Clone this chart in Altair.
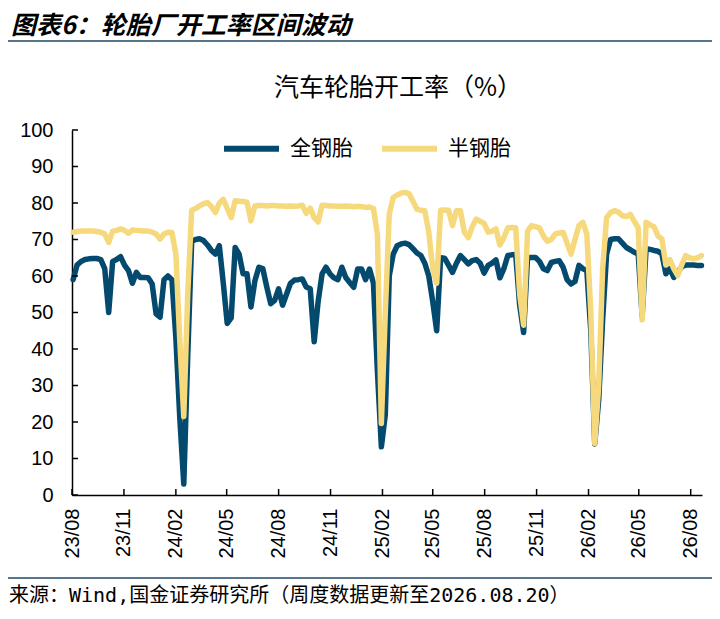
import altair as alt
import pandas as pd

# weekly data, Thursdays 2023-08-03 .. 2026-08-20
weeks = pd.date_range("2023-08-03", periods=160, freq="7D").strftime("%Y-%m-%dT00:00:00").tolist()

all_steel = [
    59, 63, 64, 64.5, 64.7, 64.8, 64.8, 64.5, 62, 50,
    64, 64.5, 65.3, 63, 61.5, 58, 61, 59.6, 59.6, 59.5,
    57.8, 49.6, 48.7, 59, 60, 59, 43, 21, 3, 38,
    69.5, 70, 70.2, 69.7, 68.5, 67, 66, 68.3, 58, 47,
    48.5, 67.8, 66, 60.6, 60.6, 51.5, 58.7, 62.4, 62, 57,
    52.4, 53.3, 56.5, 52, 55, 58, 58.9, 59, 59.2, 57,
    56.5, 42, 53, 60.6, 62.4, 60.6, 59.5, 59, 62.4, 59.6,
    58.2, 56.9, 61.9, 61.9, 59, 61.9, 58, 34, 13.2, 22,
    60, 66, 68.3, 68.8, 69, 68.6, 67.5, 66.3, 65.6, 63.5,
    60, 53, 45, 65, 64.9, 63, 61, 63.5, 65.6, 64.5,
    63.3, 64.2, 64.5, 63.5, 60.8, 62.9, 63.5, 64.4, 59.5, 62,
    65.6, 65.8, 65.9, 52, 44.5, 65.1, 65.1, 65.1, 64, 62,
    61.5, 63.7, 64, 64.2, 62.4, 59, 57.8, 58.5, 62.9, 62,
    61.5, 45, 14, 26, 48, 66, 70, 70.2, 70.2, 69,
    67.8, 67.2, 66.5, 66, 49, 67.5, 67.3, 67, 66.8, 66,
    60.6, 62, 59.6, 61, 62.5, 63, 63, 63, 62.9, 62.9,
]

semi_steel = [
    72, 72.2, 72.3, 72.3, 72.3, 72.3, 72.2, 72, 71.5, 69.2,
    72.3, 72.5, 72.9, 72.5, 71.7, 72.6, 72.5, 72.4, 72.3, 72.3,
    72, 71.5, 70.1, 71.5, 72, 71.9, 66, 42, 21.5, 55,
    78, 78.5, 79.2, 79.8, 80.1, 79, 77.4, 80, 81, 78.5,
    76, 80.6, 80.5, 80.4, 80.2, 75.1, 79.2, 79.3, 79.3, 79.2,
    79.3, 79.3, 79.2, 79.2, 79.1, 79.2, 79.1, 79.2, 79.4, 77.2,
    78.6, 76, 74.8, 79.4, 79.3, 79.2, 79.2, 79.1, 79.1, 79.2,
    79.1, 79, 79.1, 79, 78.8, 78.9, 78.5, 71.5, 19.6, 50,
    77, 81.5, 82.2, 82.7, 82.9, 82.5, 80.5, 78.3, 78, 77.9,
    72, 62, 58, 78, 78.1, 78, 73.8, 77.9, 77.9, 72,
    70.5, 73.5, 75.6, 75, 74.4, 72, 72.3, 72.9, 68.5, 70.5,
    73.2, 73.3, 73.2, 55, 46.5, 72.3, 73.8, 73.5, 73.2, 71,
    69.5, 70, 71.5, 71.8, 71.9, 69, 66, 70, 73.8, 74.7,
    71.5, 50, 14.1, 30, 62, 76, 77.4, 77.9, 77.5, 76.5,
    76.3, 76.9, 75, 73.2, 48, 74.7, 74, 73.5, 71, 70.1,
    63, 64.5, 62, 60.1, 63, 65.6, 65, 64.7, 65, 65.6,
]

series_names = ["全钢胎", "半钢胎"]
tick_months = [(2023, 8), (2023, 11), (2024, 2), (2024, 5), (2024, 8), (2024, 11),
               (2025, 2), (2025, 5), (2025, 8), (2025, 11), (2026, 2), (2026, 5), (2026, 8)]
y_ticks = [0, 10, 20, 30, 40, 50, 60, 70, 80, 90, 100]

BLUE = "#044a6e"
YELLOW = "#f6d97c"
RULE = "#1f4766"
CN = "Noto Sans CJK SC"
EN = "Liberation Sans"
MONO = "DejaVu Sans Mono, Noto Sans CJK SC"
W, H = 630, 365

df = pd.DataFrame({
    "date": weeks * 2,
    "rate": all_steel + semi_steel,
    "series": [series_names[0]] * len(weeks) + [series_names[1]] * len(weeks),
})

tick_vals = [alt.DateTime(year=y, month=m, date=1) for y, m in tick_months]

x = alt.X("date:T",
          scale=alt.Scale(domain=[alt.DateTime(year=2023, month=8, date=1),
                                  alt.DateTime(year=2026, month=8, date=21)]),
          axis=alt.Axis(title=None, values=tick_vals, format="%y/%m", labelAngle=270,
                        labelAlign="right", labelBaseline="middle", labelPadding=13,
                        labelFlush=False, labelOverlap=False, ticks=False, tickSize=0,
                        grid=False, labelFont=EN, labelFontSize=20, labelColor="black",
                        domainColor="black", domainWidth=1.5))
y = alt.Y("rate:Q",
          scale=alt.Scale(domain=[0, 100], nice=False),
          axis=alt.Axis(title=None, values=y_ticks, ticks=False, tickSize=0, labelPadding=19,
                        labelOverlap=False, grid=False, labelFont=EN, labelFontSize=20,
                        labelColor="black", domainColor="black", domainWidth=1.5))
color = alt.Color("series:N",
                  scale=alt.Scale(domain=series_names, range=[BLUE, YELLOW]),
                  legend=alt.Legend(title=None, orient="none", legendX=149, legendY=-12,
                                    direction="horizontal", symbolType="stroke",
                                    symbolSize=3025, symbolStrokeWidth=6, labelFont=CN,
                                    labelFontSize=21, labelColor="black", labelOffset=8,
                                    columnPadding=17, padding=0))

base = alt.Chart(df).encode(x=x, y=y, color=color)
line_kw = dict(strokeWidth=5.5, strokeCap="round", strokeJoin="round")
blue_line = base.transform_filter(alt.datum.series == series_names[0]).mark_line(**line_kw)
yellow_line = base.transform_filter(alt.datum.series == series_names[1]).mark_line(**line_kw)

# inward ticks (same encodings as the lines so the axes merge cleanly)
ytick = alt.Chart(pd.DataFrame({"rate": y_ticks})).mark_rule(color="black", strokeWidth=1.5).encode(
    y=y, x=alt.value(0), x2=alt.value(6))
xtick_df = pd.DataFrame({"date": ["%d-%02d-01T00:00:00" % (yy, mm) for yy, mm in tick_months]})
xtick = alt.Chart(xtick_df).mark_rule(color="black", strokeWidth=1.5).encode(
    x=x, y=alt.value(H - 6), y2=alt.value(H))


def text(t, px, py, size, font=CN, weight="normal", style="normal", align="left"):
    return alt.Chart(pd.DataFrame({"t": [t]})).mark_text(
        font=font, fontSize=size, fontWeight=weight, fontStyle=style, align=align,
        baseline="middle", color="black").encode(text="t:N", x=alt.value(px), y=alt.value(py))


def hrule(py):
    return alt.Chart(pd.DataFrame({"k": [0]})).mark_rule(color=RULE, strokeWidth=1.5).encode(
        x=alt.value(-64), x2=alt.value(640), y=alt.value(py))


header = text("图表6：轮胎厂开工率区间波动", -61, -104, 25, weight="bold", style="italic")
title = text("汽车轮胎开工率（%）", 326, -42, 25, align="center")
footer = text("来源：Wind,国金证券研究所（周度数据更新至2026.08.20）", -63, 466, 20, font=MONO)

chart = alt.layer(
    blue_line, yellow_line, ytick, xtick, header, title, footer, hrule(-89), hrule(448)
).properties(
    width=W, height=H,
    autosize=alt.AutoSizeParams(type="none"),
    padding={"left": 64, "top": 122, "right": 10, "bottom": 116},
).configure_view(strokeWidth=0)

chart.save("out.html", embed_options={"renderer": "svg", "actions": False})
